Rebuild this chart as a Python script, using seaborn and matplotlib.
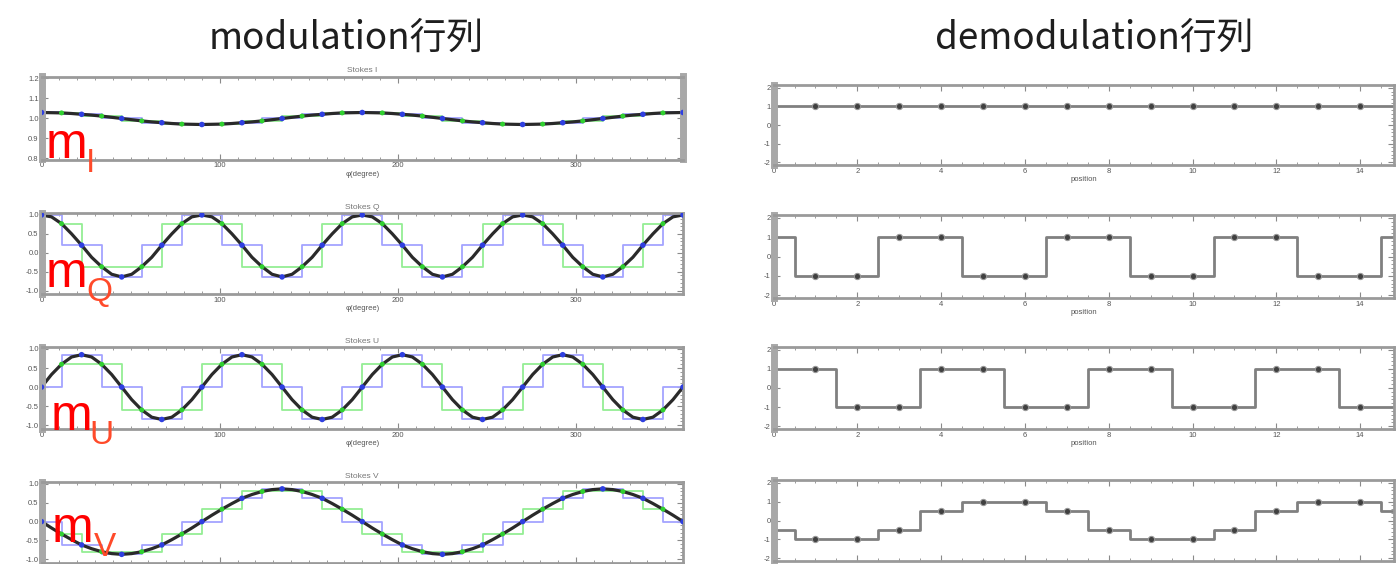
import pandas as pd
import seaborn as sns
import matplotlib.pyplot as plt
from matplotlib.ticker import MultipleLocator, FormatStrFormatter

##################################### Data #####################################

# sample angles of the modulation states (blue) and the in-between states (green)
phi_blue = [0, 22.5, 45, 67.5, 90, 112.5, 135, 157.5, 180, 202.5, 225, 247.5, 270, 292.5, 315, 337.5, 360]
phi_green = [11.25, 33.75, 56.25, 78.75, 101.25, 123.75, 146.25, 168.75,
             191.25, 213.75, 236.25, 258.75, 281.25, 303.75, 326.25, 348.75]
# extra readings of the black curve between the dots
phi_mid = [5.625, 16.875, 28.125, 39.375, 50.625, 61.875, 73.125, 84.375,
           95.625, 106.875, 118.125, 129.375, 140.625, 151.875, 163.125, 174.375,
           185.625, 196.875, 208.125, 219.375, 230.625, 241.875, 253.125, 264.375,
           275.625, 286.875, 298.125, 309.375, 320.625, 331.875, 343.125, 354.375]

I_blue = [1.03, 1.021, 1.0, 0.979, 0.97, 0.979, 1.0, 1.021, 1.03, 1.021, 1.0, 0.979, 0.97, 0.979, 1.0, 1.021, 1.03]
I_green = [1.028, 1.012, 0.988, 0.972, 0.972, 0.988, 1.012, 1.028,
           1.028, 1.012, 0.988, 0.972, 0.972, 0.988, 1.012, 1.028]
I_mid = [1.029, 1.025, 1.017, 1.006, 0.994, 0.983, 0.975, 0.971,
         0.971, 0.975, 0.983, 0.994, 1.006, 1.017, 1.025, 1.029,
         1.029, 1.025, 1.017, 1.006, 0.994, 0.983, 0.975, 0.971,
         0.971, 0.975, 0.983, 0.994, 1.006, 1.017, 1.025, 1.029]

Q_blue = [1.0, 0.2, -0.64, 0.2, 1.0, 0.2, -0.64, 0.2, 1.0, 0.2, -0.64, 0.2, 1.0, 0.2, -0.64, 0.2, 1.0]
Q_green = [0.77, -0.37, -0.37, 0.77, 0.77, -0.37, -0.37, 0.77,
           0.77, -0.37, -0.37, 0.77, 0.77, -0.37, -0.37, 0.77]
Q_mid = [0.95, 0.5, -0.12, -0.57, -0.57, -0.12, 0.5, 0.95,
         0.95, 0.5, -0.12, -0.57, -0.57, -0.12, 0.5, 0.95,
         0.95, 0.5, -0.12, -0.57, -0.57, -0.12, 0.5, 0.95,
         0.95, 0.5, -0.12, -0.57, -0.57, -0.12, 0.5, 0.95]

U_blue = [0.0, 0.85, 0.0, -0.85, 0.0, 0.85, 0.0, -0.85, 0.0, 0.85, 0.0, -0.85, 0.0, 0.85, 0.0, -0.85, 0.0]
U_green = [0.6, 0.6, -0.6, -0.6, 0.6, 0.6, -0.6, -0.6,
           0.6, 0.6, -0.6, -0.6, 0.6, 0.6, -0.6, -0.6]
U_mid = [0.33, 0.79, 0.79, 0.33, -0.33, -0.79, -0.79, -0.33,
         0.33, 0.79, 0.79, 0.33, -0.33, -0.79, -0.79, -0.33,
         0.33, 0.79, 0.79, 0.33, -0.33, -0.79, -0.79, -0.33,
         0.33, 0.79, 0.79, 0.33, -0.33, -0.79, -0.79, -0.33]

V_blue = [0.0, -0.62, -0.87, -0.62, 0.0, 0.62, 0.87, 0.62, 0.0, -0.62, -0.87, -0.62, 0.0, 0.62, 0.87, 0.62, 0.0]
V_green = [-0.33, -0.8, -0.8, -0.33, 0.33, 0.8, 0.8, 0.33,
           -0.33, -0.8, -0.8, -0.33, 0.33, 0.8, 0.8, 0.33]
V_mid = [-0.17, -0.48, -0.72, -0.85, -0.85, -0.72, -0.48, -0.17,
         0.17, 0.48, 0.72, 0.85, 0.85, 0.72, 0.48, 0.17,
         -0.17, -0.48, -0.72, -0.85, -0.85, -0.72, -0.48, -0.17,
         0.17, 0.48, 0.72, 0.85, 0.85, 0.72, 0.48, 0.17]

# demodulation matrix rows
positions = [0, 1, 2, 3, 4, 5, 6, 7, 8, 9, 10, 11, 12, 13, 14, 15]
dI = [1, 1, 1, 1, 1, 1, 1, 1, 1, 1, 1, 1, 1, 1, 1, 1]
dQ = [1, -1, -1, 1, 1, -1, -1, 1, 1, -1, -1, 1, 1, -1, -1, 1]
dU = [1, 1, -1, -1, 1, 1, -1, -1, 1, 1, -1, -1, 1, 1, -1, -1]
dV = [-0.5, -1, -1, -0.5, 0.5, 1, 1, 0.5, -0.5, -1, -1, -0.5, 0.5, 1, 1, 0.5]

stokes_names = ["I", "Q", "U", "V"]
mod_rows = [(I_blue, I_green, I_mid), (Q_blue, Q_green, Q_mid),
            (U_blue, U_green, U_mid), (V_blue, V_green, V_mid)]
demod_rows = [dI, dQ, dU, dV]

##################################### Layout #####################################

W, H = 1398, 564
left_rows = [(76.5, 159.5), (212.7, 294.3), (346.7, 429.0), (481.7, 563.0)]
right_rows = [(85.0, 165.0), (215.0, 298.0), (347.0, 429.0), (480.0, 561.0)]
m_pos = [(46, 158), (46, 287), (51, 430), (52, 542)]
sub_x = [86, 86, 89, 94]

sns.set_theme(style="ticks")
plt.rcParams['font.family'] = ['Liberation Sans', 'DejaVu Sans']
plt.rcParams['axes.unicode_minus'] = False

fig = plt.figure(figsize=(W / 100, H / 100), dpi=100)
fig.patch.set_facecolor("white")


def box(left, top, right, bottom):
    return [left / W, 1 - bottom / H, (right - left) / W, (bottom - top) / H]


def style_axes(ax, thick_right=False):
    for side in ["top", "bottom", "right"]:
        ax.spines[side].set_color("#9a9a9a")
        ax.spines[side].set_linewidth(2)
    ax.spines["left"].set_color("#a8a8a8")
    ax.spines["left"].set_linewidth(5)
    if thick_right:
        ax.spines["right"].set_color("#a8a8a8")
        ax.spines["right"].set_linewidth(5)
    ax.tick_params(which="both", direction="in", top=True, right=True,
                   colors="#8a8a8a", labelcolor="#555555", labelsize=5.5, pad=2)
    ax.tick_params(which="major", length=4, width=0.8)
    ax.tick_params(which="minor", length=2, width=0.6)
    ax.grid(False)
    ax.set_facecolor("white")


##################################### Modulation panels #####################################

for i, (name, (blue, green, mid)) in enumerate(zip(stokes_names, mod_rows)):
    top, bottom = left_rows[i]
    ax = fig.add_axes(box(41.5, top, 683, bottom))

    blue_df = pd.DataFrame({"phi": phi_blue, "value": blue})
    green_df = pd.DataFrame({"phi": phi_green, "value": green})
    mid_df = pd.DataFrame({"phi": phi_mid, "value": mid})
    curve_df = pd.concat([blue_df, green_df, mid_df]).sort_values("phi")

    sns.lineplot(data=blue_df, x="phi", y="value", drawstyle="steps-mid",
                 color="#a4a4ff", lw=1.3, ax=ax)
    sns.lineplot(data=green_df, x="phi", y="value", drawstyle="steps-mid",
                 color="#94ee94", lw=1.3, ax=ax)
    sns.lineplot(data=curve_df, x="phi", y="value", color="#2a2a2a", lw=2.3, ax=ax)
    sns.scatterplot(data=blue_df, x="phi", y="value", color="#2f3fe0", s=16,
                    edgecolor="none", ax=ax, zorder=4)
    sns.scatterplot(data=green_df, x="phi", y="value", color="#30d030", s=13,
                    edgecolor="none", ax=ax, zorder=4)

    ax.set_xlim(0, 360)
    ax.xaxis.set_major_locator(MultipleLocator(100))
    ax.xaxis.set_minor_locator(MultipleLocator(10))
    if name == "I":
        ax.set_ylim(0.795, 1.21)
        ax.yaxis.set_major_locator(MultipleLocator(0.1))
        ax.yaxis.set_minor_locator(MultipleLocator(0.02))
    else:
        ax.set_ylim(-1.1, 1.06)
        ax.yaxis.set_major_locator(MultipleLocator(0.5))
        ax.yaxis.set_minor_locator(MultipleLocator(0.1))
    ax.yaxis.set_major_formatter(FormatStrFormatter("%.1f"))

    style_axes(ax, thick_right=(name == "I"))
    ax.set_title(f"Stokes {name}", fontsize=6, color="#777777", pad=3)
    ax.set_ylabel("")
    if name == "V":
        # bottom row runs off the slide, its x labels are not visible
        ax.tick_params(labelbottom=False)
        ax.set_xlabel("")
    else:
        ax.set_xlabel("φ(degree)", fontsize=5.5, color="#555555", labelpad=1)

##################################### Demodulation panels #####################################

for i, (name, vals) in enumerate(zip(stokes_names, demod_rows)):
    top, bottom = right_rows[i]
    ax = fig.add_axes(box(773.6, top, 1393.7, bottom))

    df = pd.DataFrame({"position": positions, "value": vals})
    sns.lineplot(data=df, x="position", y="value", drawstyle="steps-mid",
                 color="#808080", lw=2, ax=ax)
    sns.scatterplot(data=df.iloc[1:15], x="position", y="value", color="#404040", s=20,
                    edgecolor="#999999", linewidth=0.8, ax=ax, zorder=4)

    ax.set_xlim(0, 14.8)
    ax.set_ylim(-2.15, 2.15)
    ax.xaxis.set_major_locator(MultipleLocator(2))
    ax.xaxis.set_minor_locator(MultipleLocator(0.5))
    ax.yaxis.set_major_locator(MultipleLocator(1))
    ax.yaxis.set_minor_locator(MultipleLocator(0.2))

    style_axes(ax)
    ax.set_ylabel("")
    if name == "V":
        ax.tick_params(labelbottom=False)
        ax.set_xlabel("")
    else:
        ax.set_xlabel("position", fontsize=5.5, color="#555555", labelpad=1)

##################################### Slide texts #####################################

fig.text(346 / W, 1 - 38 / H, "modulation行列", ha="center", va="center", fontsize=26.5,
         family=["Noto Sans CJK JP", "DejaVu Sans"], color="#1e1e1e")
fig.text(1094 / W, 1 - 38 / H, "demodulation行列", ha="center", va="center", fontsize=26.5,
         family=["Noto Sans CJK JP", "DejaVu Sans"], color="#1e1e1e")

for i, name in enumerate(stokes_names):
    mx, my = m_pos[i]
    fig.text(mx / W, 1 - my / H, "m", ha="left", va="baseline", fontsize=36, color="#ff0000")
    fig.text(sub_x[i] / W, 1 - (my + 14) / H, name, ha="left", va="baseline", fontsize=24,
             color="#ff4a2a")

fig.savefig("out.png", dpi=100, facecolor="white")
